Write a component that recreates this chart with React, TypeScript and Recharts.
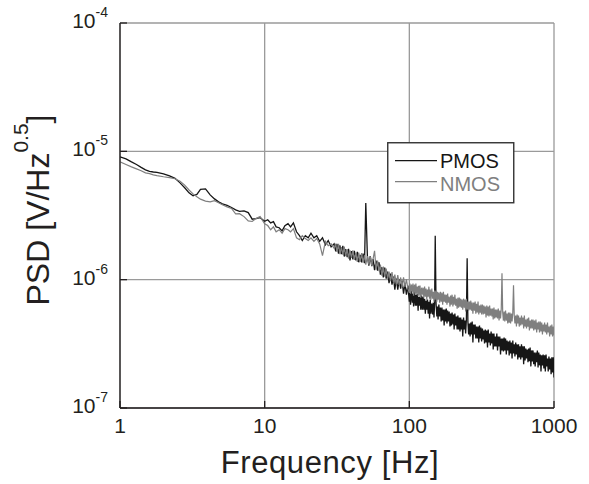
import React from 'react';
import { LineChart, Line, XAxis, YAxis, CartesianGrid, Legend } from 'recharts';

const FONT = '"Liberation Sans", Arial, Helvetica, sans-serif';

// Frequency bins [Hz]
const freqLow = [
  1, 1.1, 1.2, 1.3, 1.4, 1.5, 1.6, 1.7, 1.8, 2, 2.2, 2.4, 2.6, 2.8, 3, 3.2, 3.4, 3.6, 3.9, 4.2, 4.5, 4.8, 5.1, 5.5, 5.9, 6.3, 6.7, 7.2, 7.7, 8.2, 8.7, 9.3, 10,
  10.5, 11, 11.5, 12, 12.6, 13.2, 13.8, 14.5, 15.1, 15.8, 16.6, 17.4, 18.2, 19.1, 20, 20.9, 21.9, 22.9, 24, 25.1, 26.3, 27.5, 28.8, 30.2,
];
const freqMid = [
  31, 31.6, 32.4, 33.1, 33.9, 34.7, 35.5, 36.3, 37.2, 38, 38.9, 39.8, 40.7, 41.7, 42.7, 43.7, 44.7, 45.7, 46.8, 47.9, 49, 50, 51.3, 52.5,
  53.7, 55, 56.2, 57.5, 58.9, 60.3, 61.7, 63.1, 64.6, 66.1, 67.6, 69.2, 70.8, 72.4, 74.1, 75.9, 77.6, 79.4, 81.3, 83.2, 85.1, 87.1, 89.1,
  91.2, 93.3, 95.5, 97.7,
];
const freqHigh = [
  100, 101, 102, 103.5, 105, 106, 107, 108.5, 110, 111, 112, 113.5, 115, 116, 117, 118.5, 120, 121.5, 123, 124.5,
  126, 127.5, 129, 130.5, 132, 133.5, 135, 136.5, 138, 139.5, 141, 143, 145, 146.5, 148, 149.5, 151, 153, 155, 156.5,
  158, 160, 162, 164, 166, 168, 170, 172, 174, 176, 178, 180, 182, 184, 186, 188.5, 191, 193, 195, 197.5,
  200, 202, 204, 206.5, 209, 211.5, 214, 216.5, 219, 221.5, 224, 226.5, 229, 231.5, 234, 237, 240, 242.5, 245, 248,
  251, 254, 257, 260, 263, 266, 269, 272, 275, 278.5, 282, 285, 288, 291.5, 295, 298.5, 302, 305.5, 309, 312.5,
  316, 320, 324, 327.5, 331, 335, 339, 343, 347, 351, 355, 359, 363, 367.5, 372, 376, 380, 384.5, 389, 393.5,
  398, 402.5, 407, 412, 417, 422, 427, 432, 437, 442, 447, 452, 457, 462.5, 468, 473.5, 479, 484.5, 490, 495.5,
  501, 507, 513, 519, 525, 531, 537, 543.5, 550, 556, 562, 568.5, 575, 582, 589, 596, 603, 610, 617, 624,
  631, 638.5, 646, 653.5, 661, 668.5, 676, 684, 692, 700, 708, 716, 724, 732.5, 741, 750, 759, 767.5, 776, 785,
  794, 803.5, 813, 822.5, 832, 841.5, 851, 861, 871, 881, 891, 901.5, 912, 922.5, 933, 944, 955, 966, 977, 988.5,
  1000,
];

// PMOS noise PSD [uV/Hz^0.5]
const pmosLow = [
  9.05, 8.73, 8.27, 7.9, 7.5, 7.17, 6.98, 6.9, 6.85, 6.67, 6.44, 6.16, 5.68, 5.2, 4.75, 4.5, 4.62, 5.06, 5.1, 4.58, 4.26, 4.04, 3.9, 3.79,
  3.65, 3.5, 3.41, 3.44, 3.33, 2.96, 2.99, 3.04, 2.85,
  2.93, 2.77, 2.83, 2.58, 2.54, 2.4, 2.63, 2.73, 2.58, 2.77, 2.36, 2.2, 2.02, 2.2, 2.12, 2.3, 2.12, 2.2, 1.99, 2.12, 1.87, 2.02, 1.8, 1.9,
];
const pmosMid = [
  1.66, 1.9, 1.593, 1.85, 1.58, 1.838, 1.515, 1.727, 1.5, 1.742, 1.413, 1.672, 1.44, 1.675, 1.413, 1.645, 1.366, 1.562, 1.366, 1.593,
  1.344, 3.95, 1.523, 1.286, 1.523, 1.274, 1.444, 1.186, 1.41, 1.175, 1.368, 1.094, 1.25, 1.04, 1.244, 1.018, 1.154, 0.939, 1.117, 0.914,
  1.055, 0.836, 1.018, 0.836, 1.004, 0.851, 0.982, 0.778, 0.931, 0.764, 0.898,
];
const pmosHigh = [
  0.674, 0.821, 0.639, 0.821, 0.662, 0.778, 0.617, 0.806, 0.628, 0.764,
  0.628, 0.778, 0.574, 0.737, 0.628, 0.737, 0.584, 0.751, 0.584, 0.737,
  0.584, 0.711, 0.544, 0.686, 0.584, 0.699, 0.544, 0.674, 0.498, 0.699,
  0.544, 0.65, 0.535, 0.662, 0.507, 0.639, 2.2, 0.65, 0.516, 0.617,
  0.489, 0.639, 0.516, 0.606, 0.472, 0.606, 0.48, 0.584, 0.439, 0.584,
  0.472, 0.595, 0.455, 0.574, 0.472, 0.564, 0.431, 0.544, 0.439, 0.554,
  0.447, 0.535, 0.409, 0.544, 0.439, 0.516, 0.409, 0.525, 0.409, 0.507,
  0.395, 0.507, 0.409, 0.489, 0.361, 0.507, 0.409, 0.48, 0.381, 0.489,
  1.47, 0.472, 0.374, 0.455, 0.361, 0.463, 0.374, 0.472, 0.324, 0.447,
  0.374, 0.447, 0.348, 0.431, 0.348, 0.431, 0.324, 0.439, 0.348, 0.424,
  0.33, 0.416, 0.342, 0.402, 0.318, 0.409, 0.324, 0.402, 0.296, 0.409,
  0.324, 0.381, 0.307, 0.395, 0.318, 0.381, 0.286, 0.381, 0.302, 0.361,
  0.302, 0.381, 0.281, 0.361, 0.302, 0.361, 0.261, 0.348, 0.281, 0.348,
  0.276, 0.354, 0.281, 0.348, 0.261, 0.336, 0.281, 0.33, 0.257, 0.336,
  0.266, 0.324, 0.243, 0.336, 0.266, 0.313, 0.252, 0.324, 0.261, 0.313,
  0.239, 0.313, 0.248, 0.302, 0.239, 0.313, 0.248, 0.302, 0.219, 0.302,
  0.235, 0.291, 0.243, 0.286, 0.227, 0.291, 0.231, 0.296, 0.211, 0.281,
  0.231, 0.281, 0.219, 0.271, 0.211, 0.271, 0.227, 0.281, 0.207, 0.271,
  0.215, 0.261, 0.193, 0.257, 0.215, 0.261, 0.203, 0.257, 0.193, 0.261,
  0.211, 0.243, 0.193, 0.252, 0.2, 0.243, 0.183, 0.248, 0.189, 0.248,
  0.173,
];

// NMOS noise PSD [uV/Hz^0.5]
const nmosLow = [
  8.27, 7.9, 7.57, 7.3, 7.06, 6.8, 6.7, 6.56, 6.47, 6.34, 6.24, 6.12, 5.85, 5.45, 5.0, 4.66, 4.43, 4.24, 4.09, 4.04, 4.12, 3.97, 3.83, 3.69,
  3.59, 3.26, 3.27, 3.1, 2.87, 2.84, 2.99, 3.1, 2.73,
  2.64, 2.45, 2.58, 2.36, 2.45, 2.3, 2.5, 2.45, 2.36, 2.5, 2.12, 2.05, 2.2, 2.09, 2.02, 2.12, 1.99, 2.09, 1.9, 1.54, 1.99, 1.84, 1.9, 1.76,
];
const nmosMid = [
  1.905, 1.645, 1.905, 1.58, 1.79, 1.565, 1.81, 1.523, 1.733, 1.457, 1.69, 1.475, 1.69, 1.427, 1.62, 1.376, 1.625, 1.378, 1.61, 1.356,
  1.551, 1.309, 1.523, 1.309, 1.523, 1.286, 1.457, 1.68, 1.197, 1.406, 1.165, 1.309, 1.074, 1.263, 1.055, 1.218, 1.018, 1.154, 0.974, 1.144,
  0.96, 1.094, 0.914, 1.084, 0.911, 1.04, 0.879, 1.043, 0.879, 1.005, 0.847,
];
const nmosHigh = [
  0.792, 0.931, 0.778, 0.914, 0.806, 0.931, 0.751, 0.914, 0.778, 0.931,
  0.778, 0.882, 0.751, 0.898, 0.751, 0.898, 0.724, 0.866, 0.764, 0.866,
  0.724, 0.882, 0.737, 0.851, 0.699, 0.836, 0.737, 0.882, 0.711, 0.836,
  0.699, 0.851, 0.711, 0.806, 0.674, 0.821, 0.699, 0.821, 0.674, 0.806,
  0.699, 0.792, 0.662, 0.806, 0.674, 0.792, 0.639, 0.806, 0.674, 0.764,
  0.662, 0.764, 0.639, 0.778, 0.662, 0.737, 0.617, 0.751, 0.639, 0.764,
  0.617, 0.737, 0.639, 0.764, 0.628, 0.711, 0.595, 0.724, 0.606, 0.724,
  0.617, 0.711, 0.606, 0.699, 0.584, 0.711, 0.606, 0.699, 0.564, 0.711,
  0.584, 0.674, 0.574, 0.674, 0.584, 0.686, 0.574, 0.662, 0.544, 0.662,
  0.574, 0.674, 0.544, 0.65, 0.554, 0.674, 0.535, 0.628, 0.554, 0.639,
  0.535, 0.639, 0.535, 0.628, 0.544, 0.617, 0.507, 0.628, 0.525, 0.617,
  0.516, 0.628, 0.525, 0.595, 0.516, 0.595, 0.489, 0.606, 0.498, 0.584,
  0.507, 0.584, 0.498, 0.595, 0.48, 0.574, 0.498, 0.595, 1.12, 0.554,
  0.48, 0.564, 0.472, 0.574, 0.48, 0.544, 0.455, 0.554, 0.463, 0.554,
  0.455, 0.544, 0.472, 0.554, 0.906, 0.525, 0.455, 0.525, 0.431, 0.535,
  0.455, 0.525, 0.431, 0.507, 0.439, 0.525, 0.447, 0.507, 0.416, 0.525,
  0.431, 0.489, 0.416, 0.498, 0.431, 0.507, 0.402, 0.48, 0.416, 0.489,
  0.416, 0.489, 0.402, 0.48, 0.409, 0.489, 0.388, 0.463, 0.409, 0.472,
  0.388, 0.472, 0.395, 0.463, 0.374, 0.447, 0.395, 0.463, 0.388, 0.447,
  0.374, 0.463, 0.388, 0.431, 0.361, 0.439, 0.374, 0.447, 0.361, 0.431,
  0.367,
];

const seriesNames = ['PMOS', 'NMOS'];
const xTicks = [1, 10, 100, 1000];
const yTicks = [1e-7, 1e-6, 1e-5, 1e-4];
const xLabel = 'Frequency [Hz]';
const yLabelMain = 'PSD [V/Hz';
const yLabelSup = '0.5';

const freqHz = [...freqLow, ...freqMid, ...freqHigh];
const pmosUv = [...pmosLow, ...pmosMid, ...pmosHigh];
const nmosUv = [...nmosLow, ...nmosMid, ...nmosHigh];
const data = freqHz.map((f, i) => ({ f, PMOS: pmosUv[i] * 1e-6, NMOS: nmosUv[i] * 1e-6 }));

const XTick = (props: any) => {
  const { x, y, payload } = props;
  return (
    <text x={x} y={y} dy={15} textAnchor="middle" fontSize={21} fill="#231f20" fontFamily={FONT}>
      {String(payload.value)}
    </text>
  );
};

const YTick = (props: any) => {
  const { x, y, payload } = props;
  const e = Math.round(Math.log10(payload.value));
  return (
    <text x={x} y={y + 5} textAnchor="end" fontSize={21} fill="#231f20" fontFamily={FONT}>
      <tspan>10</tspan>
      <tspan fontSize={14} dy={-11}>{String(e)}</tspan>
    </text>
  );
};

const EmptyTick = () => <g />;

const XLabel = () => (
  <text x={330} y={473} textAnchor="middle" fontSize={31} fill="#231f20" fontFamily={FONT} letterSpacing={0.6}>
    {xLabel}
  </text>
);

const YLabel = () => (
  <text transform="translate(49,210) rotate(-90)" textAnchor="middle" fontSize={32} fill="#231f20" fontFamily={FONT}>
    {yLabelMain}
    <tspan fontSize={21} dy={-21}>{yLabelSup}</tspan>
    <tspan dy={21}>]</tspan>
  </text>
);

const LegendBox = (props: any) => {
  const payload = [...(props.payload || [])].sort(
    (a: any, b: any) => seriesNames.indexOf(a.value) - seriesNames.indexOf(b.value)
  );
  return (
    <svg width={128} height={62} style={{ display: 'block' }}>
      <rect x={0.75} y={0.75} width={126} height={60} fill="#fff" stroke="#333" strokeWidth={1.4} />
      {payload.map((p: any, i: number) => (
        <g key={i}>
          <line x1={8} x2={50} y1={18.7 + 21 * i} y2={18.7 + 21 * i} stroke={p.color} strokeWidth={1.2} />
          <text x={53} y={25.5 + 23 * i} fontSize={20} fill={p.color} fontFamily={FONT}>
            {p.value}
          </text>
        </g>
      ))}
    </svg>
  );
};

export default function App() {
  return (
    <div style={{ position: 'absolute', left: 0, top: 0, background: '#fff' }}>
      <LineChart width={589} height={484} data={data} margin={{ top: 23, right: 35, bottom: 0, left: 0 }}>
        <CartesianGrid stroke="#9a9a9a" strokeWidth={1.3} />
        <XAxis
          dataKey="f"
          type="number"
          scale="log"
          domain={[1, 1000]}
          ticks={xTicks}
          allowDataOverflow
          height={76}
          tickSize={-7}
          tickMargin={17}
          tick={<XTick />}
          stroke="#231f20"
          strokeWidth={1.3}
          label={<XLabel />}
        />
        <XAxis
          xAxisId="top"
          orientation="top"
          dataKey="f"
          type="number"
          scale="log"
          domain={[1, 1000]}
          ticks={xTicks}
          allowDataOverflow
          height={0}
          tickSize={-7}
          tick={<EmptyTick />}
          stroke="#231f20"
          strokeWidth={1.3}
        />
        <YAxis
          type="number"
          scale="log"
          domain={[1e-7, 1e-4]}
          ticks={yTicks}
          allowDataOverflow
          width={120}
          tickSize={-7}
          tickMargin={19}
          tick={<YTick />}
          stroke="#231f20"
          strokeWidth={1.3}
          label={<YLabel />}
        />
        <YAxis
          yAxisId="right"
          orientation="right"
          type="number"
          scale="log"
          domain={[1e-7, 1e-4]}
          ticks={yTicks}
          allowDataOverflow
          width={0}
          tickSize={-7}
          tick={<EmptyTick />}
          stroke="#231f20"
          strokeWidth={1.3}
        />
        <Legend
          layout="horizontal"
          verticalAlign="middle"
          align="center"
          content={<LegendBox />}
          wrapperStyle={{ position: 'absolute', left: 387, top: 142, width: 128, height: 62 }}
        />
        <Line
          dataKey="PMOS"
          name="PMOS"
          type="linear"
          stroke="#161616"
          strokeWidth={1.3}
          dot={false}
          isAnimationActive={false}
        />
        <Line
          dataKey="NMOS"
          name="NMOS"
          type="linear"
          stroke="#7f7f7f"
          strokeWidth={1.2}
          dot={false}
          isAnimationActive={false}
        />
      </LineChart>
    </div>
  );
}
